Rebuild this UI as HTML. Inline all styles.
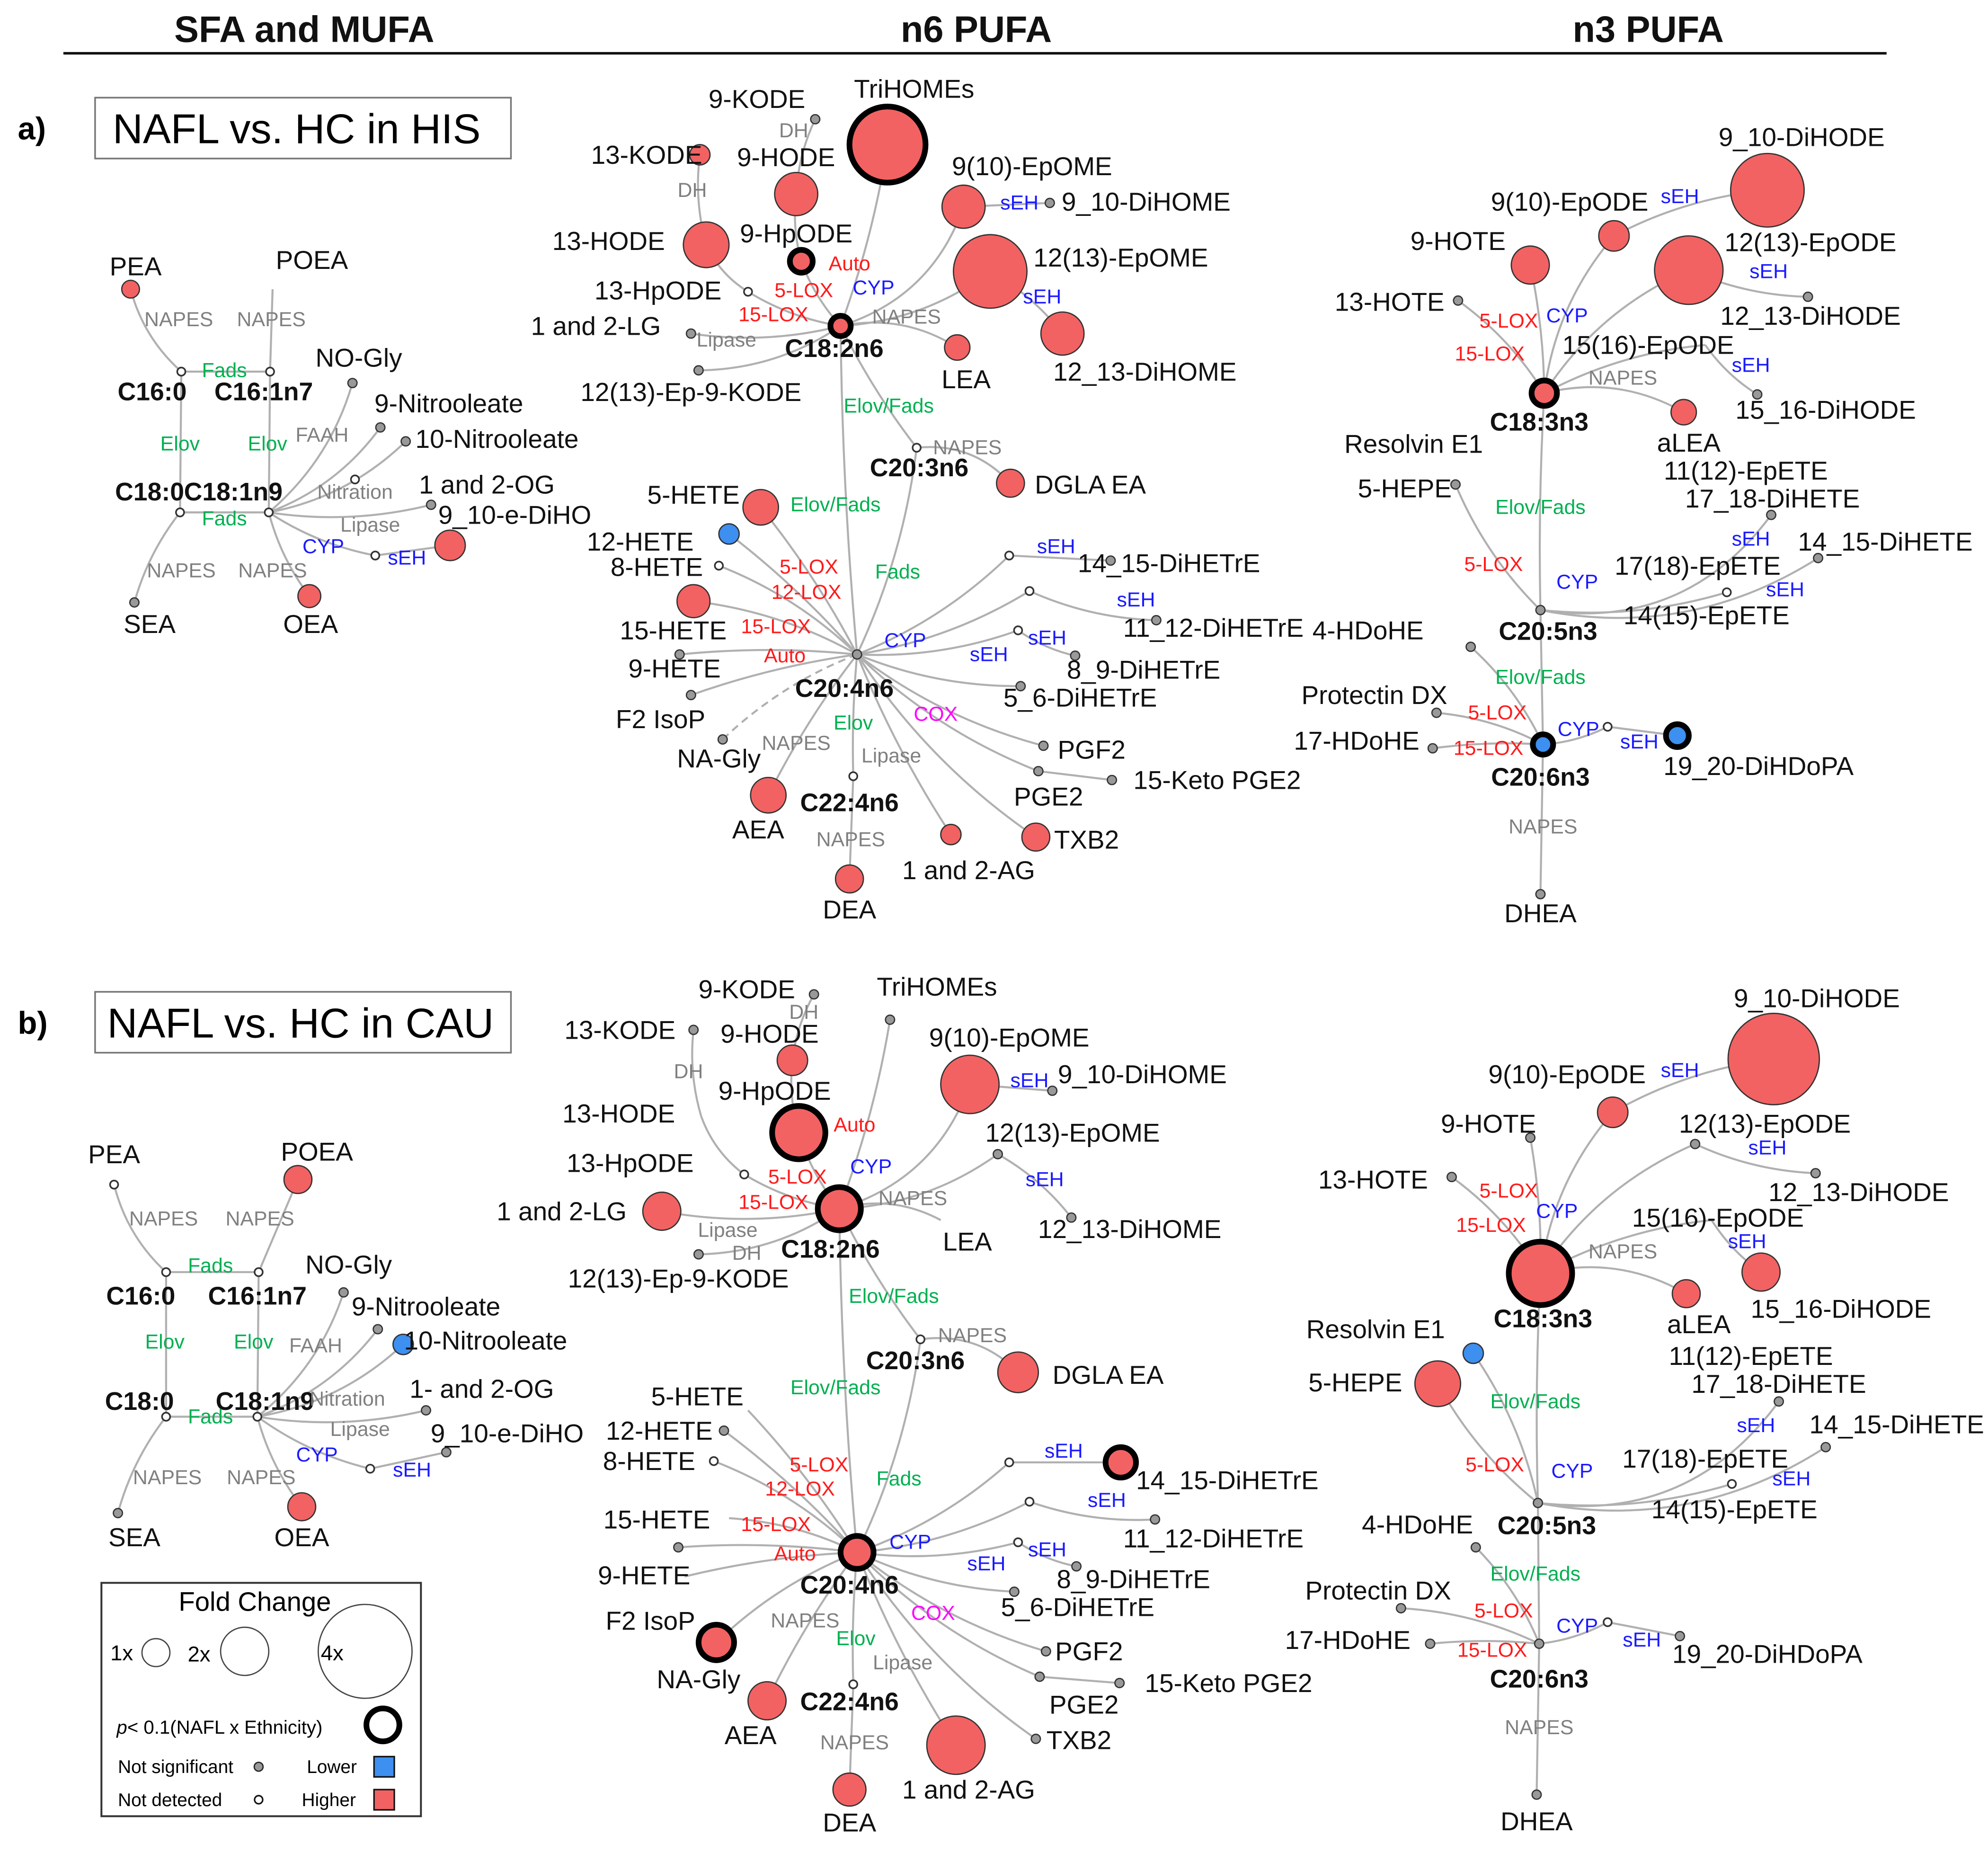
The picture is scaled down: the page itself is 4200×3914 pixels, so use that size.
<!DOCTYPE html>
<html><head><meta charset="utf-8">
<style>
html,body{margin:0;padding:0;background:#fff;}
svg{display:block;}
text{font-family:"Liberation Sans",Arial,sans-serif;}
.k{font-size:20.5px;fill:#111;}
.kb{font-size:20px;fill:#111;font-weight:bold;}
.g{font-size:16px;fill:#808080;}
.gr{font-size:16px;fill:#00b050;}
.r{font-size:16px;fill:#ff1a1a;}
.bl{font-size:16px;fill:#1a1aff;}
.m{font-size:16px;fill:#ff00ff;}
.h{font-size:29px;font-weight:bold;fill:#111;}
</style></head>
<body>
<svg id="fig" width="4200" height="3914" viewBox="0 0 1568 1461" preserveAspectRatio="none" xmlns="http://www.w3.org/2000/svg">
<rect x="0" y="0" width="1568" height="1461" fill="#fff"/>
<text x="240" y="33" text-anchor="middle" class="h">SFA and MUFA</text>
<text x="770" y="33" text-anchor="middle" class="h">n6 PUFA</text>
<text x="1300" y="33" text-anchor="middle" class="h">n3 PUFA</text>
<line x1="50" y1="42" x2="1488" y2="42" stroke="#111" stroke-width="2"/>
<text x="14" y="110" style="font-size:25px;font-weight:bold">a)</text>
<rect x="75" y="77" width="328" height="48" fill="none" stroke="#777" stroke-width="1.3"/>
<text x="234" y="113" text-anchor="middle" style="font-size:33px">NAFL vs. HC in HIS</text>
<text x="14" y="815" style="font-size:25px;font-weight:bold">b)</text>
<rect x="75" y="782" width="328" height="48" fill="none" stroke="#777" stroke-width="1.3"/>
<text x="237" y="818" text-anchor="middle" style="font-size:33px">NAFL vs. HC in CAU</text>
<g id="edges"></g>
<g id="nodes"></g>
<g id="labels"></g>
<g>
<rect x="80" y="1248" width="252" height="184" fill="#fff" stroke="#333" stroke-width="1.5"/>
<text x="201" y="1270" text-anchor="middle" style="font-size:21px">Fold Change</text>
<text x="96" y="1309" text-anchor="middle" style="font-size:17px">1x</text>
<circle cx="123" cy="1303" r="11" fill="none" stroke="#444" stroke-width="1"/>
<text x="157" y="1310" text-anchor="middle" style="font-size:17px">2x</text>
<circle cx="193" cy="1302" r="19" fill="none" stroke="#444" stroke-width="1"/>
<text x="262" y="1309" text-anchor="middle" style="font-size:17px">4x</text>
<circle cx="288" cy="1302" r="37" fill="none" stroke="#444" stroke-width="1"/>
<text x="92" y="1367" style="font-size:15px"><tspan font-style="italic">p</tspan>&lt; 0.1(NAFL x Ethnicity)</text>
<circle cx="302" cy="1360" r="13" fill="none" stroke="#000" stroke-width="4.5"/>
<text x="93" y="1398" style="font-size:14.5px">Not significant</text>
<circle cx="204" cy="1393" r="3.5" fill="#999" stroke="#222" stroke-width="1"/>
<text x="242" y="1398" style="font-size:14.5px">Lower</text>
<rect x="295" y="1385" width="16" height="16" fill="#3d8ff0" stroke="#111" stroke-width="1.2"/>
<text x="93" y="1424" style="font-size:14.5px">Not detected</text>
<circle cx="204" cy="1419" r="3.2" fill="#fff" stroke="#111" stroke-width="1.2"/>
<text x="238" y="1424" style="font-size:14.5px">Higher</text>
<rect x="295" y="1411" width="16" height="16" fill="#f26262" stroke="#111" stroke-width="1.2"/>
</g>
</svg>
<script>
const nodeIds=["a_pea","a_c160","a_c161","a_poea","a_nogly","a_9nit","a_10nit","a_c180","a_c181","a_nitr","a_og","a_seh","a_dihoe","a_sea","a_oea",
"a_tri","a_9kode","a_13kode","a_9hode","a_13hode","a_9hpode","a_13hpode","a_lg","a_c182","a_epkode","a_lea","a_9epome","a_9dihome","a_12epome","a_12dihome","a_c203","a_dgla","a_c204","a_5hete","a_12hete","a_8hete","a_15hete","a_9hete","a_f2","a_nagly","a_s1","a_1415","a_s2","a_1112","a_s3","a_89","a_56","a_pgf2","a_pge2","a_keto","a_txb2","a_c224","a_aea","a_ag","a_dea",
"a_9dihode","a_9epode","a_9hote","a_12epode","a_12dihode","a_13hote","a_15epode","a_15dihode","a_c183","a_alea","a_5hepe","a_1718","a_n1415","a_14ep","a_c205","a_4h","a_c206","a_pdx","a_17h","a_cyp","a_1920","a_dhea",
"b_pea","b_poea","b_c160","b_c161","b_nogly","b_9nit","b_10nit","b_c180","b_c181","b_og","b_dihoe","b_seh","b_sea","b_oea",
"b_9kode","b_tri","b_13kode","b_9hode","b_13hode","b_9hpode","b_13hpode","b_lg","b_c182","b_epkode","b_lea","b_9epome","b_9dihome","b_12epome","b_12dihome","b_c203","b_dgla","b_c204","b_5hete","b_12hete","b_8hete","b_15hete","b_9hete","b_f2","b_nagly","b_s1","b_1415","b_s2","b_1112","b_s3","b_89","b_56","b_pgf2","b_pge2","b_keto","b_txb2","b_c224","b_aea","b_ag","b_dea",
"b_9dihode","b_9epode","b_9hote","b_12epode","b_12dihode","b_13hote","b_15epode","b_15dihode","b_c183","b_alea","b_5hepe","b_re1","b_1718","b_n1415","b_14ep","b_c205","b_4h","b_c206","b_pdx","b_17h","b_cyp","b_1920","b_dhea"];
const nodeX=[103,143,213,215,278,300,320,142,212,280,340,296,355,106,244,
700,643,552,628,557,632,590,545,663,551,755,760,828,781,838,723,797,676,600,575,567,547,536,545,570,796,876,812,912,803,848,805,823,819,877,817,673,606,750,670,
1394,1273,1207,1332,1426,1150,1345,1386,1218,1328,1148,1397,1434,1362,1215,1160,1217,1133,1130,1268,1323,1215,
90,235,131,204,271,298,318,131,203,336,352,292,93,238,
642,702,547,625,553,630,587,522,662,551,742,765,830,787,845,726,803,676,590,571,563,575,535,540,565,796,884,812,911,803,849,800,825,820,883,817,673,605,754,670,
1399,1272,1207,1337,1432,1145,1350,1389,1215,1330,1134,1162,1403,1440,1366,1213,1164,1214,1105,1128,1268,1325,1212];
const nodeY=[228,293,293,228,302,337,348,404,404,378,398,438,430,475,470,
114,94,122,153,193,206,230,263,257,292,274,163,160,214,263,353,381,516,400,421,446,474,516,548,583,438,442,466,489,497,517,541,588,608,615,660,612,627,658,693,
150,186,209,213,234,237,272,311,310,325,382,406,440,467,481,510,587,562,590,573,580,705,
934,930,1003,1003,1019,1048,1060,1117,1117,1112,1145,1158,1193,1188,
784,804,812,836,880,893,926,955,953,989,962,855,860,910,960,1056,1082,1224,1112,1128,1152,1197,1220,1243,1295,1153,1153,1184,1198,1216,1235,1255,1302,1322,1327,1371,1328,1341,1376,1411,
835,877,897,902,925,928,962,1003,1004,1020,1091,1067,1105,1141,1170,1185,1220,1296,1268,1296,1279,1290,1415];
const nodeType=["r","w","w","n","g","g","g","w","w","w","g","w","r","g","r",
"R","g","r","r","r","R","w","g","R","g","r","r","g","r","r","w","r","g","r","b","w","r","g","g","g","w","g","w","g","w","g","g","g","g","g","r","w","r","r","r",
"r","r","r","r","g","g","n","g","R","r","g","g","g","w","g","g","B","g","g","w","B","g",
"w","r","w","w","g","g","b","w","w","g","g","w","g","r",
"g","g","g","r","n","R","w","r","R","g","n","r","g","g","g","w","r","R","n","g","w","n","g","n","R","w","R","w","g","w","g","g","g","g","g","g","w","r","r","r",
"r","r","g","g","g","g","n","r","R","r","r","b","g","g","w","g","g","g","g","g","w","g","g"];
const nodeR=[7,0,0,0,0,0,0,0,0,0,0,0,12,0,9,
30,0,8,17,18,9,0,0,8,0,10,17,0,29,17,0,11,0,14,8,0,13,0,0,0,0,0,0,0,0,0,0,0,0,0,11,0,14,8,11,
29,12,15,27,0,0,0,0,10,10,0,0,0,0,0,0,8,0,0,0,9,0,
0,11,0,0,0,0,8,0,0,0,0,0,0,11,
0,0,0,12,0,21,0,15,17,0,0,23,0,0,0,0,16,13,0,0,0,0,0,0,14,0,12,0,0,0,0,0,0,0,0,0,0,15,23,13,
36,12,0,0,0,0,0,15,25,11,18,8,0,0,0,0,0,0,0,0,0,0,0];
const edgeFrom=[];const edgeTo=[];const edgeCurv=[];
function E(p,list){list.forEach(e=>{edgeFrom.push(p+e[0]);edgeTo.push(p+e[1]);edgeCurv.push(e[2]);});}
const sfaEdges=[["pea","c160",.15],["poea","c161",0],["c160","c161",0],["c160","c180",0],["c161","c181",0],["c180","c181",0],["c180","sea",.1],["c181","nogly",.15],["c181","9nit",.15],["c181","10nit",.15],["c181","og",.1],["c181","seh",.1],["seh","dihoe",0],["c181","oea",.1]];
const n6Edges=[["c182","tri",.05],["9kode","9hode",.1],["9hode","9hpode",.1],["9hpode","c182",.1],["13kode","13hode",.1],["13hode","13hpode",.15],["13hpode","c182",.1],["lg","c182",.1],["epkode","c182",.15],["c182","lea",-.2],["c182","9epome",.25],["9epome","9dihome",0],["c182","12epome",.15],["12epome","12dihome",-.1],["c182","c203",.05],["c203","dgla",-.25],["c182","c204",.02],["c203","c204",-.08],["c204","5hete",.05],["c204","12hete",.05],["c204","8hete",.1],["c204","15hete",.1],["c204","9hete",.05],["c204","f2",.05],["c204","s1",.1],["s1","1415",0],["c204","s2",.1],["s2","1112",.1],["c204","s3",.1],["s3","89",.1],["c204","56",.1],["c204","pgf2",.1],["c204","pge2",.1],["pge2","keto",0],["c204","txb2",.1],["c204","c224",.03],["c204","aea",.05],["c204","ag",.05],["c224","dea",0]];
const n3Edges=[["c183","9hote",.05],["c183","13hote",.1],["c183","9epode",-.15],["9epode","9dihode",-.1],["c183","12epode",-.15],["12epode","12dihode",.1],["c183","15epode",-.1],["15epode","15dihode",.1],["c183","alea",-.2],["c183","c205",.02],["c205","5hepe",-.1],["c205","1718",.3],["c205","n1415",.2],["c205","14ep",.1],["c205","c206",0],["c206","4h",.1],["c206","pdx",.1],["c206","17h",.05],["c206","cyp",.1],["cyp","1920",0],["c206","dhea",0]];
E("a_",sfaEdges);E("a_",n6Edges);E("a_",n3Edges);E("a_",[["c204","nagly",.1]]);
E("b_",sfaEdges);E("b_",n6Edges);E("b_",n3Edges);E("b_",[["c204","nagly",.1],["c205","re1",.1]]);
const labX=[],labY=[],labT=[],labC=[];
function L(arr){arr.forEach(l=>{labX.push(l[0]);labY.push(l[1]);labT.push(l[2]);labC.push(l[3]);});}
L([[107,210,"PEA","k"],[246,205,"POEA","k"],[141,252,"NAPES","g"],[214,252,"NAPES","g"],[177,292,"Fads","gr"],[120,309,"C16:0","kb"],[208,309,"C16:1n7","kb"],[283,282,"NO-Gly","k"],[354,318,"9-Nitrooleate","k"],[254,343,"FAAH","g"],[392,346,"10-Nitrooleate","k"],[142,350,"Elov","gr"],[211,350,"Elov","gr"],[118,388,"C18:0","kb"],[184,388,"C18:1n9","kb"],[280,388,"Nitration","g"],[384,382,"1 and 2-OG","k"],[177,409,"Fads","gr"],[292,414,"Lipase","g"],[406,406,"9_10-e-DiHO","k"],[255,431,"CYP","bl"],[321,440,"sEH","bl"],[143,450,"NAPES","g"],[215,450,"NAPES","g"],[118,492,"SEA","k"],[245,492,"OEA","k"],
[721,70,"TriHOMEs","k"],[597,78,"9-KODE","k"],[626,103,"DH","g"],[510,122,"13-KODE","k"],[620,124,"9-HODE","k"],[546,150,"DH","g"],[480,190,"13-HODE","k"],[628,184,"9-HpODE","k"],[670,208,"Auto","r"],[519,229,"13-HpODE","k"],[634,229,"5-LOX","r"],[689,227,"CYP","bl"],[610,248,"15-LOX","r"],[470,257,"1 and 2-LG","k"],[573,268,"Lipase","g"],[715,250,"NAPES","g"],[658,275,"C18:2n6","kb"],[762,299,"LEA","k"],[545,309,"12(13)-Ep-9-KODE","k"],[814,131,"9(10)-EpOME","k"],[804,160,"sEH","bl"],[904,159,"9_10-DiHOME","k"],[884,203,"12(13)-EpOME","k"],[822,234,"sEH","bl"],[903,293,"12_13-DiHOME","k"],[701,320,"Elov/Fads","gr"],[725,369,"C20:3n6","kb"],[763,353,"NAPES","g"],[860,382,"DGLA EA","k"],
[547,390,"5-HETE","k"],[659,398,"Elov/Fads","gr"],[505,427,"12-HETE","k"],[518,447,"8-HETE","k"],[638,447,"5-LOX","r"],[636,467,"12-LOX","r"],[708,451,"Fads","gr"],[531,497,"15-HETE","k"],[612,494,"15-LOX","r"],[619,517,"Auto","r"],[532,527,"9-HETE","k"],[521,567,"F2 IsoP","k"],[567,598,"NA-Gly","k"],[714,505,"CYP","bl"],[666,543,"C20:4n6","kb"],[833,431,"sEH","bl"],[922,444,"14_15-DiHETrE","k"],[896,473,"sEH","bl"],[957,495,"11_12-DiHETrE","k"],[826,503,"sEH","bl"],[902,528,"8_9-DiHETrE","k"],[780,516,"sEH","bl"],[852,550,"5_6-DiHETrE","k"],[673,570,"Elov","gr"],[738,563,"COX","m"],[628,586,"NAPES","g"],[703,596,"Lipase","g"],[861,591,"PGF2","k"],[960,615,"15-Keto PGE2","k"],[827,628,"PGE2","k"],[670,633,"C22:4n6","kb"],[598,654,"AEA","k"],[671,662,"NAPES","g"],[764,686,"1 and 2-AG","k"],[857,662,"TXB2","k"],[670,717,"DEA","k"],
[1421,108,"9_10-DiHODE","k"],[1238,159,"9(10)-EpODE","k"],[1325,155,"sEH","bl"],[1150,190,"9-HOTE","k"],[1428,191,"12(13)-EpODE","k"],[1395,214,"sEH","bl"],[1096,238,"13-HOTE","k"],[1428,249,"12_13-DiHODE","k"],[1190,253,"5-LOX","r"],[1236,249,"CYP","bl"],[1300,272,"15(16)-EpODE","k"],[1175,279,"15-LOX","r"],[1381,288,"sEH","bl"],[1280,298,"NAPES","g"],[1214,333,"C18:3n3","kb"],[1332,349,"aLEA","k"],[1440,323,"15_16-DiHODE","k"],[1115,350,"Resolvin E1","k"],[1108,385,"5-HEPE","k"],[1377,371,"11(12)-EpETE","k"],[1398,393,"17_18-DiHETE","k"],[1215,400,"Elov/Fads","gr"],[1381,425,"sEH","bl"],[1487,427,"14_15-DiHETE","k"],[1178,445,"5-LOX","r"],[1244,459,"CYP","bl"],[1339,446,"17(18)-EpETE","k"],[1408,465,"sEH","bl"],[1346,485,"14(15)-EpETE","k"],[1079,497,"4-HDoHE","k"],[1221,498,"C20:5n3","kb"],[1215,534,"Elov/Fads","gr"],[1084,548,"Protectin DX","k"],[1181,562,"5-LOX","r"],[1070,584,"17-HDoHE","k"],[1174,590,"15-LOX","r"],[1245,575,"CYP","bl"],[1293,585,"sEH","bl"],[1387,604,"19_20-DiHDoPA","k"],[1215,613,"C20:6n3","kb"],[1217,652,"NAPES","g"],[1215,720,"DHEA","k"],
[90,910,"PEA","k"],[250,908,"POEA","k"],[129,961,"NAPES","g"],[205,961,"NAPES","g"],[166,998,"Fads","gr"],[111,1022,"C16:0","kb"],[203,1022,"C16:1n7","kb"],[275,997,"NO-Gly","k"],[336,1030,"9-Nitrooleate","k"],[383,1057,"10-Nitrooleate","k"],[130,1058,"Elov","gr"],[200,1058,"Elov","gr"],[249,1061,"FAAH","g"],[110,1105,"C18:0","kb"],[209,1105,"C18:1n9","kb"],[274,1103,"Nitration","g"],[380,1095,"1- and 2-OG","k"],[166,1117,"Fads","gr"],[284,1127,"Lipase","g"],[400,1130,"9_10-e-DiHO","k"],[250,1147,"CYP","bl"],[325,1159,"sEH","bl"],[132,1165,"NAPES","g"],[206,1165,"NAPES","g"],[106,1212,"SEA","k"],[238,1212,"OEA","k"],
[589,780,"9-KODE","k"],[634,798,"DH","g"],[739,778,"TriHOMEs","k"],[489,812,"13-KODE","k"],[607,815,"9-HODE","k"],[543,845,"DH","g"],[796,818,"9(10)-EpOME","k"],[812,852,"sEH","bl"],[901,847,"9_10-DiHOME","k"],[611,860,"9-HpODE","k"],[674,887,"Auto","r"],[488,878,"13-HODE","k"],[846,893,"12(13)-EpOME","k"],[497,917,"13-HpODE","k"],[629,928,"5-LOX","r"],[687,920,"CYP","bl"],[824,930,"sEH","bl"],[610,948,"15-LOX","r"],[720,945,"NAPES","g"],[443,955,"1 and 2-LG","k"],[655,985,"C18:2n6","kb"],[574,970,"Lipase","g"],[763,979,"LEA","k"],[891,969,"12_13-DiHOME","k"],[589,988,"DH","g"],[535,1008,"12(13)-Ep-9-KODE","k"],[705,1022,"Elov/Fads","gr"],[722,1073,"C20:3n6","kb"],[767,1053,"NAPES","g"],[874,1084,"DGLA EA","k"],
[550,1101,"5-HETE","k"],[659,1094,"Elov/Fads","gr"],[520,1128,"12-HETE","k"],[512,1152,"8-HETE","k"],[646,1155,"5-LOX","r"],[631,1174,"12-LOX","r"],[709,1166,"Fads","gr"],[839,1144,"sEH","bl"],[968,1167,"14_15-DiHETrE","k"],[873,1183,"sEH","bl"],[957,1213,"11_12-DiHETrE","k"],[518,1198,"15-HETE","k"],[612,1202,"15-LOX","r"],[718,1216,"CYP","bl"],[826,1222,"sEH","bl"],[894,1245,"8_9-DiHETrE","k"],[627,1225,"Auto","r"],[670,1250,"C20:4n6","kb"],[778,1233,"sEH","bl"],[508,1242,"9-HETE","k"],[850,1267,"5_6-DiHETrE","k"],[513,1278,"F2 IsoP","k"],[551,1324,"NA-Gly","k"],[635,1278,"NAPES","g"],[736,1272,"COX","m"],[675,1292,"Elov","gr"],[859,1302,"PGF2","k"],[712,1311,"Lipase","g"],[969,1327,"15-Keto PGE2","k"],[670,1342,"C22:4n6","kb"],[592,1368,"AEA","k"],[855,1344,"PGE2","k"],[674,1374,"NAPES","g"],[764,1411,"1 and 2-AG","k"],[851,1372,"TXB2","k"],[670,1437,"DEA","k"],
[1433,787,"9_10-DiHODE","k"],[1236,847,"9(10)-EpODE","k"],[1325,844,"sEH","bl"],[1174,886,"9-HOTE","k"],[1392,886,"12(13)-EpODE","k"],[1394,905,"sEH","bl"],[1083,930,"13-HOTE","k"],[1466,940,"12_13-DiHODE","k"],[1190,939,"5-LOX","r"],[1228,955,"CYP","bl"],[1355,960,"15(16)-EpODE","k"],[1378,979,"sEH","bl"],[1176,966,"15-LOX","r"],[1280,987,"NAPES","g"],[1217,1040,"C18:3n3","kb"],[1340,1044,"aLEA","k"],[1452,1032,"15_16-DiHODE","k"],[1085,1048,"Resolvin E1","k"],[1069,1090,"5-HEPE","k"],[1381,1069,"11(12)-EpETE","k"],[1403,1091,"17_18-DiHETE","k"],[1211,1105,"Elov/Fads","gr"],[1385,1124,"sEH","bl"],[1496,1123,"14_15-DiHETE","k"],[1179,1155,"5-LOX","r"],[1240,1160,"CYP","bl"],[1345,1150,"17(18)-EpETE","k"],[1413,1166,"sEH","bl"],[1220,1203,"C20:5n3","kb"],[1368,1190,"14(15)-EpETE","k"],[1118,1202,"4-HDoHE","k"],[1211,1241,"Elov/Fads","gr"],[1087,1254,"Protectin DX","k"],[1186,1270,"5-LOX","r"],[1244,1282,"CYP","bl"],[1295,1293,"sEH","bl"],[1394,1304,"19_20-DiHDoPA","k"],[1063,1293,"17-HDoHE","k"],[1177,1301,"15-LOX","r"],[1214,1324,"C20:6n3","kb"],[1214,1362,"NAPES","g"],[1212,1436,"DHEA","k"]]);

const NS="http://www.w3.org/2000/svg";
const idx={};nodeIds.forEach((id,i)=>idx[id]=i);
const gE=document.getElementById("edges"),gN=document.getElementById("nodes"),gL=document.getElementById("labels");
for(let i=0;i<edgeFrom.length;i++){
  const a=idx[edgeFrom[i]],b=idx[edgeTo[i]];
  if(a===undefined||b===undefined)continue;
  const x1=nodeX[a],y1=nodeY[a],x2=nodeX[b],y2=nodeY[b],k=edgeCurv[i];
  const mx=(x1+x2)/2-(y2-y1)*k,my=(y1+y2)/2+(x2-x1)*k;
  const p=document.createElementNS(NS,"path");
  p.setAttribute("d",`M${x1},${y1} Q${mx},${my} ${x2},${y2}`);
  p.setAttribute("fill","none");p.setAttribute("stroke","#b0b0b0");p.setAttribute("stroke-width","1.6");
  if(edgeTo[i]==="a_nagly")p.setAttribute("stroke-dasharray","6,4");
  
  
  gE.appendChild(p);
}
const fills={g:"#999",w:"#fff",r:"#f26262",R:"#f26262",b:"#3d8ff0",B:"#3d8ff0"};
for(let i=0;i<nodeIds.length;i++){
  const t=nodeType[i];if(t==="n"||!t)continue;
  const c=document.createElementNS(NS,"circle");
  let r=nodeR[i]||(t==="w"?3.2:(t==="R"||t==="B"?8:3.6));
  c.setAttribute("cx",nodeX[i]);c.setAttribute("cy",nodeY[i]);c.setAttribute("r",r);
  c.setAttribute("fill",fills[t]);
  const thick=(t==="R"||t==="B");
  c.setAttribute("stroke",thick?"#000":"#333");
  c.setAttribute("stroke-width",thick?"4.5":(t==="w"?"1.3":"1"));
  
  
  gN.appendChild(c);
}
for(let i=0;i<labX.length;i++){
  const t=document.createElementNS(NS,"text");
  t.setAttribute("x",labX[i]);t.setAttribute("y",labY[i]);
  t.setAttribute("text-anchor","middle");t.setAttribute("dominant-baseline","central");
  t.setAttribute("class",labC[i]);t.textContent=labT[i];
  
  
  gL.appendChild(t);
}
</script>
</body></html>
